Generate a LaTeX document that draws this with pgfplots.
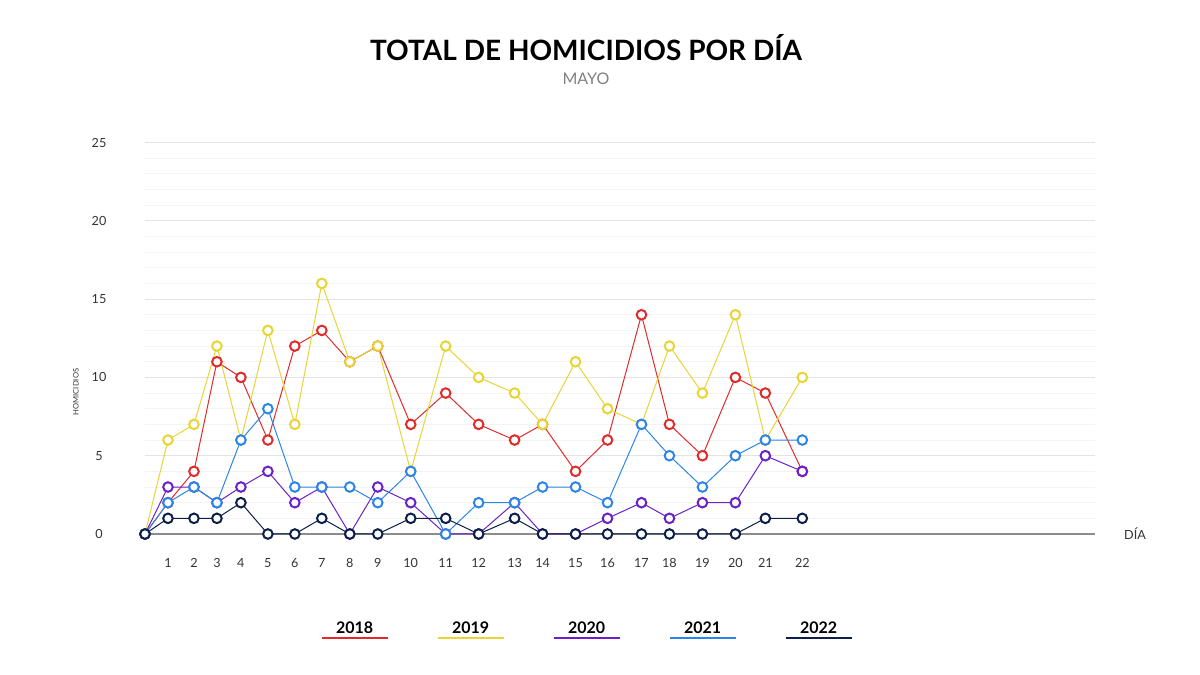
\documentclass[border=0pt]{standalone}
\usepackage{pgfplots}
\pgfplotsset{compat=1.18}
\usepackage{pgfplotstable}
\usepackage{fontspec}
\setmainfont{Lato}
\definecolor{cA}{HTML}{E02B2B}
\definecolor{cB}{HTML}{E6D535}
\definecolor{cC}{HTML}{6A22C8}
\definecolor{cD}{HTML}{2C86E8}
\definecolor{cE}{HTML}{0B1F4A}
\definecolor{gridmaj}{HTML}{E4E4E4}
\definecolor{gridmin}{HTML}{F3F3F3}

\pgfplotstableread{
pos day a b c d e
0   0  0  0  0 0 0
23  1  2  6  3 2 1
49  2  4  7  3 3 1
72  3  11 12 2 2 1
96  4  10 6  3 6 2
123 5  6  13 4 8 0
150 6  12 7  2 3 0
177 7  13 16 3 3 1
205 8  11 11 0 3 0
233 9  12 12 3 2 0
266 10 7  4  2 4 1
301 11 9  12 0 0 1
334 12 7  10 0 2 0
370 13 6  9  2 2 1
398 14 7  7  0 3 0
431 15 4  11 0 3 0
463 16 6  8  1 2 0
497 17 14 7  2 7 0
525 18 7  12 1 5 0
558 19 5  9  2 3 0
591 20 10 14 2 5 0
621 21 9  6  5 6 1
658 22 4  10 4 6 1
}\datatable

\begin{document}
\begin{tikzpicture}[x=1pt,y=1pt]
\path[use as bounding box] (0,0) rectangle (600,337.5);
\begin{axis}[
  at={(72.5pt,70.5pt)}, anchor=south west,
  scale only axis, width=475pt, height=195.75pt,
  xmin=0, xmax=951, ymin=0, ymax=25,
  axis x line*=bottom, axis y line*=left,
  y axis line style={draw=none},
  x axis line style={draw=black!45, line width=0.7pt, -},
  xtick={23,49,72,96,123,150,177,205,233,266,301,334,370,398,431,463,497,525,558,591,621,658},
  xticklabels={1,2,3,4,5,6,7,8,9,10,11,12,13,14,15,16,17,18,19,20,21,22},
  ytick={0,5,10,15,20,25},
  minor y tick num=4,
  major tick length=0pt, minor tick length=0pt,
  ymajorgrids, yminorgrids,
  major grid style={draw=gridmaj, line width=0.5pt},
  minor grid style={draw=gridmin, line width=0.5pt},
  /pgf/number format/assume math mode=true,
  tick label style={font=\fontsize{6.3}{7}\selectfont, text=black!80},
  xticklabel style={anchor=center, yshift=-14.5pt},
  yticklabel style={anchor=center, xshift=-23pt},
  clip=false,
  every axis plot/.append style={line width=0.5pt, mark=o, mark size=2.4pt,
     mark options={solid, fill=white, line width=1pt}},
]
\addplot[color=cA, mark=*] table[x=pos, y=a] {\datatable};
\addplot[color=cB, mark=*] table[x=pos, y=b] {\datatable};
\addplot[color=cC, mark=*] table[x=pos, y=c] {\datatable};
\addplot[color=cD, mark=*] table[x=pos, y=d] {\datatable};
\addplot[color=cE, mark=*] table[x=pos, y=e] {\datatable};
\end{axis}
% titles
\node[font=\fontsize{14}{17}\selectfont\bfseries] at (293,313.5) {TOTAL DE HOMICIDIOS POR DÍA};
\node[font=\fontsize{8}{9}\selectfont, text=black!50] at (293,298) {MAYO};
\node[font=\fontsize{3.8}{4.5}\selectfont, rotate=90, text=black!80] at (38,141.5) {HOMICIDIOS};
\node[font=\fontsize{6.3}{7}\selectfont, text=black!80] at (567.5,70.5) {DÍA};
% legend
\foreach \c/\t [count=\i from 0] in {cA/2018,cB/2019,cC/2020,cD/2021,cE/2022}{
  \node[font=\fontsize{8}{9}\selectfont\bfseries] at (177.3+58*\i,23.5) {\t};
  \draw[\c, line width=1.3pt] (160.8+58*\i,18.5) -- (193.8+58*\i,18.5);
}
\end{tikzpicture}
\end{document}
